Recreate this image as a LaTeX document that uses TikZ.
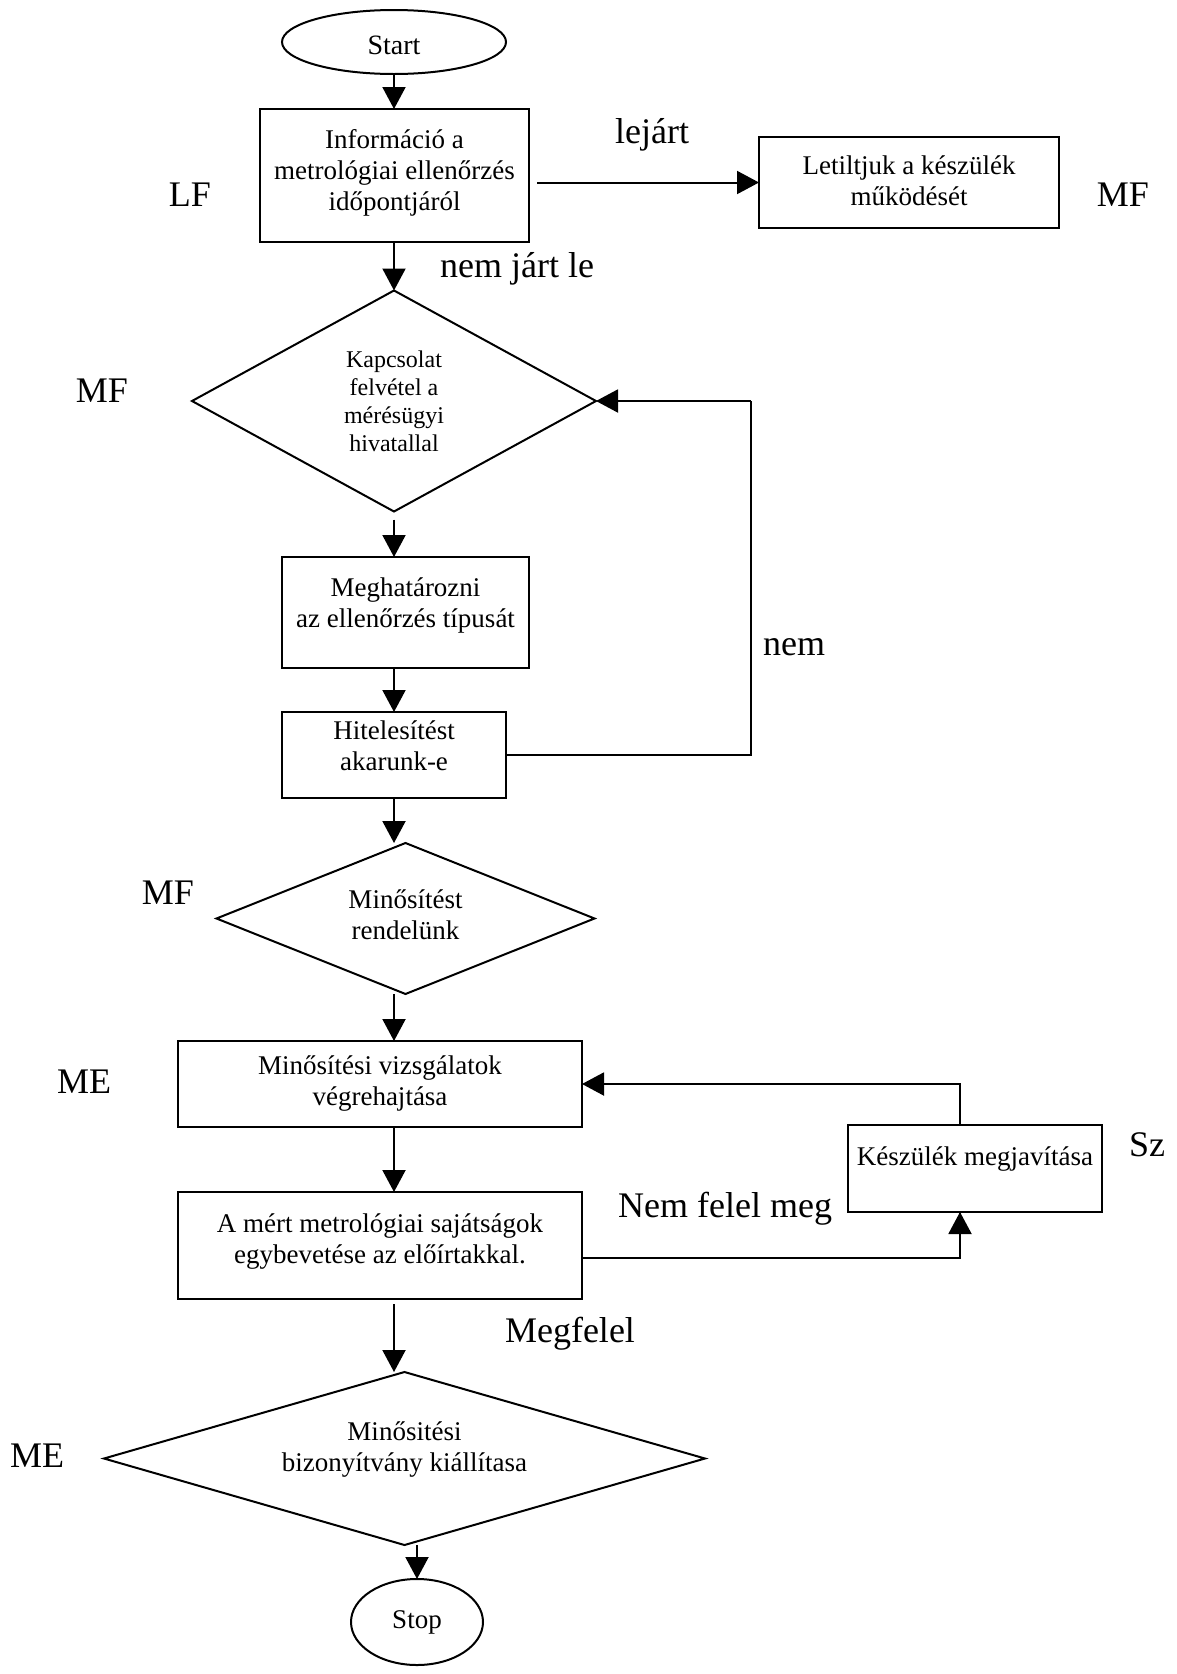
\documentclass[tikz,border=0pt]{standalone}
\usepackage{fontspec}
\setmainfont{Liberation Serif}
\usetikzlibrary{shapes.geometric,arrows.meta}
\begin{document}
\begin{tikzpicture}[x=1pt,y=-1pt,
  box/.style={draw, line width=2pt, rectangle, inner sep=0pt, outer sep=0pt},
  dia/.style={draw, line width=2pt, diamond, aspect=2, inner sep=0pt, outer sep=0pt, align=center, font=\fontsize{27}{30}\selectfont},
  oval/.style={draw, line width=2pt, ellipse, inner sep=0pt, outer sep=0pt, font=\fontsize{27}{31}\selectfont},
  arr/.style={line width=2pt, -{Triangle[length=22pt,width=23pt]}},
  ln/.style={line width=2pt},
  txt/.style={align=center, inner sep=0pt, font=\fontsize{27}{31}\selectfont},
  lbl/.style={inner sep=0pt, font=\fontsize{36}{40}\selectfont}]
\useasboundingbox[fill=white] (0,0) rectangle (1176,1674);

% nodes
\node[oval, minimum width=224pt, minimum height=64pt] (start) at (394,42) {};
\node[txt, font=\fontsize{28}{31}\selectfont] (startt) at ([yshift=-3pt]start.center) {Start};
\node[box, minimum width=269pt, minimum height=133pt] (box1) at (394.5,175.5) {};
\node[txt] (box1t) at ([yshift=3pt]box1.center) {Információ a\\metrológiai ellenőrzés\\időpontjáról};
\node[box, minimum width=300pt, minimum height=91pt] (dis) at (909,182.5) {};
\node[txt] (dist) at ([yshift=2pt]dis.center) {Letiltjuk a készülék\\működését};
\node[dia, minimum width=404pt, minimum height=221pt, font=\fontsize{24}{28}\selectfont] (d1) at (394,401)
  {Kapcsolat\\felvétel a\\mérésügyi\\hivatallal};
\node[box, minimum width=247pt, minimum height=111pt] (box2) at (405.5,612.5) {};
\node[txt] (box2t) at ([yshift=7pt]box2.center) {Meghatározni\\az ellenőrzés típusát};
\node[box, minimum width=224pt, minimum height=86pt] (box3) at (394,755) {};
\node[txt] (box3t) at ([yshift=9.5pt]box3.center) {Hitelesítést\\akarunk-e};
\node[dia, minimum width=378pt, minimum height=151pt] (d2) at (405.5,918.5) {};
\node[txt] (d2t) at ([yshift=4pt]d2.center) {Minősítést\\rendelünk};
\node[box, minimum width=404pt, minimum height=86pt, txt] (box4) at (380,1084)
  {Minősítési vizsgálatok\\végrehajtása};
\node[box, minimum width=254pt, minimum height=87pt] (box5) at (975,1168.5) {};
\node[txt] (box5t) at ([yshift=9.5pt]box5.center) {Készülék megjavítása};
\node[box, minimum width=404pt, minimum height=107pt] (box6) at (380,1245.5) {};
\node[txt] (box6t) at ([yshift=4pt]box6.center) {A mért metrológiai sajátságok\\egybevetése az előírtakkal.};
\node[dia, minimum width=601pt, minimum height=173pt] (d3) at (404.5,1458.5) {};
\node[txt] (d3t) at ([yshift=8.5pt]d3.center) {Minősitési\\bizonyítvány kiállítasa};
\node[oval, minimum width=132pt, minimum height=86pt] (stop) at (417,1622) {Stop};

% labels
\node[lbl] (llejart) at (652,135) {lejárt};
\node[lbl] (lnemjart) at (517,269) {nem járt le};
\node[lbl] (lLF) at (190,195) {LF};
\node[lbl] (lMF1) at (1123,195) {MF};
\node[lbl] (lMF2) at (102,391) {MF};
\node[lbl] (lnem) at (794,647) {nem};
\node[lbl] (lMF3) at (168,893) {MF};
\node[lbl] (lME1) at (84,1082) {ME};
\node[lbl] (lSz) at (1147,1145) {Sz};
\node[lbl] (lnfm) at (725,1209) {Nem felel meg};
\node[lbl] (lmeg) at (570,1334) {Megfelel};
\node[lbl] (lME2) at (37,1456) {ME};

% connectors
\coordinate (loopx) at (751,0);
\draw[arr] (start.south) -- (start.south |- box1.north);
\draw[arr] ([xshift=8pt]box1.east |- dis.west) -- (dis.west);
\draw[arr] (box1.south -| start.south) -- (start.south |- d1.north);
\draw[arr] ([yshift=-8pt]d1.south) -- (d1.south |- box2.north);
\draw[arr] (box3.north |- box2.south) -- (box3.north);
\draw[ln] (box3.east) -| (loopx |- d1.east);
\draw[arr] (loopx |- d1.east) -- (d1.east);
\draw[arr] (box3.south) -- (box3.south |- d2.north);
\draw[arr] (d2.south -| box3.south) -- (box3.south |- box4.north);
\draw[arr] (box3.south |- box4.south) -- (box3.south |- box6.north);
\draw[ln] ([yshift=-12.5pt]box6.east) -| ([xshift=-15pt]box5.south);
\draw[arr] ([xshift=-15pt,yshift=-25pt]box5.south) -- ([xshift=-15pt]box5.south);
\draw[arr] ([xshift=-15pt]box5.north) |- (box4.east);
\draw[arr] ([yshift=-5pt]box6.south -| box3.south) -- (box3.south |- d3.north);
\draw[arr] (stop.north |- d3.south) -- (stop.north);
\end{tikzpicture}
\end{document}
